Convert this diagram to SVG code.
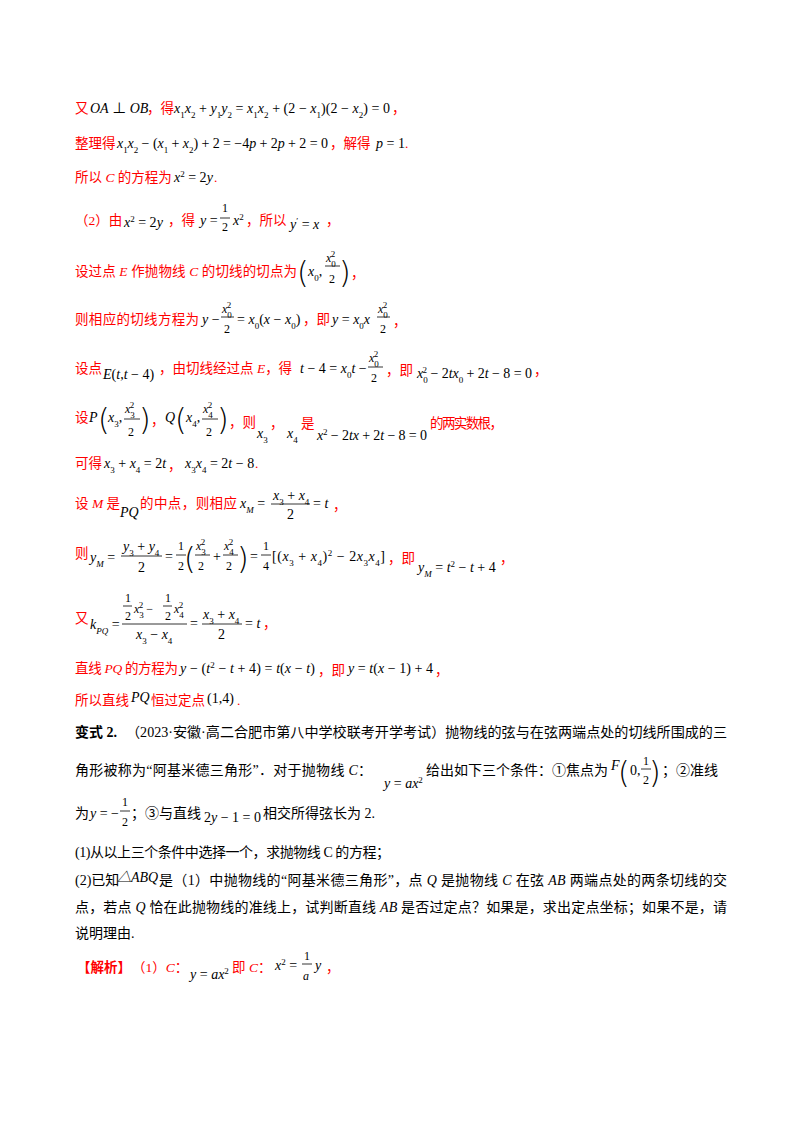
<svg xmlns="http://www.w3.org/2000/svg" width="800" height="1132" viewBox="0 0 800 1132">
<style>
text{font-family:"Liberation Serif","Noto Sans CJK SC",serif;font-size:14px;fill:#000}
.r{fill:#ff0000;font-size:13.5px}
.m{font-style:italic}
.n{font-style:normal}
.i{font-style:italic}
.s{font-size:9px;baseline-shift:sub;font-style:normal}
.si{font-size:9px;baseline-shift:sub}
.p{font-size:9px;baseline-shift:super;font-style:normal}
.f{font-size:12px}
line{stroke:#000;stroke-width:0.8}
.b{font-size:30px;font-weight:100;font-family:"DejaVu Sans",sans-serif}
</style>
<rect width="800" height="1132" fill="#fff"/>
<g id="line1">
<text x="75" y="113" class="r">又</text>
<text x="90" y="113" class="m">OA<tspan class="n"> ⊥ </tspan>OB</text>
<text x="147" y="113" class="r">，得</text>
<text x="174" y="113" class="m" textLength="216" lengthAdjust="spacing">x<tspan class="s">1</tspan>x<tspan class="s">2</tspan> <tspan class="n">+</tspan> y<tspan class="s">1</tspan>y<tspan class="s">2</tspan> <tspan class="n">=</tspan> x<tspan class="s">1</tspan>x<tspan class="s">2</tspan> <tspan class="n">+ (2 − </tspan>x<tspan class="s">1</tspan><tspan class="n">)(2 − </tspan>x<tspan class="s">2</tspan><tspan class="n">) = 0</tspan></text>
<text x="392" y="113" class="r">，</text>
</g>
<g id="line2">
<text x="75" y="148" class="r">整理得</text>
<text x="117" y="148" class="m" textLength="211" lengthAdjust="spacing">x<tspan class="s">1</tspan>x<tspan class="s">2</tspan><tspan class="n"> − (</tspan>x<tspan class="s">1</tspan><tspan class="n"> + </tspan>x<tspan class="s">2</tspan><tspan class="n">) + 2 = −4</tspan>p<tspan class="n"> + 2</tspan>p<tspan class="n"> + 2 = 0</tspan></text>
<text x="330" y="148" class="r">，解得</text>
<text x="376" y="148" class="m">p<tspan class="n"> = 1</tspan></text>
<text x="405" y="148" class="r">.</text>
</g>
<g id="line3">
<text x="75" y="182" class="r">所以 <tspan class="i">C</tspan> 的方程为</text>
<text x="174" y="182" class="m">x<tspan class="p">2</tspan><tspan class="n"> = 2</tspan>y</text>
<text x="214" y="182" class="r">.</text>
</g>
<g id="line4">
<text x="75" y="225" class="r">（2）由</text>
<text x="124" y="227" class="m">x<tspan class="p">2</tspan><tspan class="n"> = 2</tspan>y</text>
<text x="168" y="225" class="r">，得</text>
<text x="200" y="225" class="m">y<tspan class="n"> =</tspan></text>
<text x="222" y="212" class="f">1</text><line x1="220" y1="218" x2="230" y2="218"/><text x="222" y="231" class="f">2</text>
<text x="233" y="225" class="m">x<tspan class="p">2</tspan></text>
<text x="246" y="225" class="r">，所以</text>
<text x="290" y="229" class="m">y<tspan class="p">′</tspan><tspan class="n"> = </tspan>x</text>
<text x="326" y="225" class="r">，</text>
</g>
<g id="line5">
<text x="75" y="276" class="r" textLength="222" lengthAdjust="spacing">设过点 <tspan class="i">E</tspan> 作抛物线 <tspan class="i">C</tspan> 的切线的切点为</text>
<text x="297" y="283" class="b">(</text>
<text x="308" y="276" class="m">x<tspan class="s">0</tspan><tspan class="n">,</tspan></text>
<text x="326" y="262" class="m f">x<tspan class="s">0</tspan><tspan class="p" dx="-5">2</tspan></text><line x1="325" y1="266" x2="340" y2="266"/><text x="329" y="283" class="f">2</text>
<text x="339" y="283" class="b">)</text>
<text x="351" y="278" class="r">，</text>
</g>
<g id="line6">
<text x="75" y="324" class="r" textLength="124" lengthAdjust="spacing">则相应的切线方程为</text>
<text x="202" y="324" class="m">y<tspan class="n"> −</tspan></text>
<text x="222" y="313" class="m f">x<tspan class="s">0</tspan><tspan class="p" dx="-5">2</tspan></text><line x1="221" y1="317" x2="234" y2="317"/><text x="224" y="333" class="f">2</text>
<text x="237" y="324" class="m"><tspan class="n">= </tspan>x<tspan class="s">0</tspan><tspan class="n">(</tspan>x<tspan class="n"> − </tspan>x<tspan class="s">0</tspan><tspan class="n">)</tspan></text>
<text x="303" y="324" class="r">，即</text>
<text x="332" y="324" class="m">y<tspan class="n"> = </tspan>x<tspan class="s">0</tspan>x</text>
<text x="378" y="313" class="m f">x<tspan class="s">0</tspan><tspan class="p" dx="-5">2</tspan></text><line x1="377" y1="317" x2="390" y2="317"/><text x="380" y="333" class="f">2</text>
<text x="393" y="326" class="r">，</text>
</g>
<g id="line7">
<text x="75" y="373" class="r">设点</text>
<text x="103" y="379" class="m">E<tspan class="n">(</tspan>t<tspan class="n">,</tspan>t<tspan class="n"> − 4)</tspan></text>
<text x="159" y="373" class="r">，由切线经过点 <tspan class="i">E</tspan>，得</text>
<text x="300" y="373" class="m">t<tspan class="n"> − 4 = </tspan>x<tspan class="s">0</tspan>t<tspan class="n"> −</tspan></text>
<text x="369" y="362" class="m f">x<tspan class="s">0</tspan><tspan class="p" dx="-5">2</tspan></text><line x1="368" y1="367" x2="383" y2="367"/><text x="371" y="382" class="f">2</text>
<text x="386" y="375" class="r">，即</text>
<text x="417" y="378" class="m" textLength="115" lengthAdjust="spacing">x<tspan class="s">0</tspan><tspan class="p" dx="-5">2</tspan><tspan class="n"> − 2</tspan>tx<tspan class="s">0</tspan><tspan class="n"> + 2</tspan>t<tspan class="n"> − 8 = 0</tspan></text>
<text x="534" y="375" class="r">，</text>
</g>
<g id="line8">
<text x="75" y="422" class="r">设</text>
<text x="89" y="422" class="m">P</text>
<text x="98" y="430" class="b">(</text>
<text x="108" y="422" class="m">x<tspan class="s">3</tspan><tspan class="n">,</tspan></text>
<text x="125" y="413" class="m f">x<tspan class="s">3</tspan><tspan class="p" dx="-5">2</tspan></text><line x1="124" y1="419" x2="140" y2="419"/><text x="128" y="436" class="f">2</text>
<text x="139" y="430" class="b">)</text>
<text x="151" y="425" class="r">，</text>
<text x="165" y="422" class="m">Q</text>
<text x="175" y="430" class="b">(</text>
<text x="186" y="422" class="m">x<tspan class="s">4</tspan><tspan class="n">,</tspan></text>
<text x="203" y="413" class="m f">x<tspan class="s">4</tspan><tspan class="p" dx="-5">2</tspan></text><line x1="202" y1="419" x2="218" y2="419"/><text x="206" y="436" class="f">2</text>
<text x="217" y="430" class="b">)</text>
<text x="229" y="427" class="r">，则</text>
<text x="257" y="438" class="m">x<tspan class="s">3</tspan></text>
<text x="270" y="428" class="r">，</text>
<text x="287" y="438" class="m">x<tspan class="s">4</tspan></text>
<text x="301" y="428" class="r">是</text>
<text x="317" y="440" class="m" textLength="110" lengthAdjust="spacing">x<tspan class="p">2</tspan><tspan class="n"> − 2</tspan>tx<tspan class="n"> + 2</tspan>t<tspan class="n"> − 8 = 0</tspan></text>
<text x="430" y="428" class="r" textLength="73" lengthAdjust="spacing">的两实数根，</text>
</g>
<g id="line9">
<text x="75" y="468" class="r">可得</text>
<text x="104" y="468" class="m">x<tspan class="s">3</tspan><tspan class="n"> + </tspan>x<tspan class="s">4</tspan><tspan class="n"> = 2</tspan>t</text>
<text x="168" y="470" class="r">，</text>
<text x="185" y="468" class="m">x<tspan class="s">3</tspan>x<tspan class="s">4</tspan><tspan class="n"> = 2</tspan>t<tspan class="n"> − 8</tspan></text>
<text x="255" y="468" class="r">.</text>
</g>
<g id="line10">
<text x="75" y="508" class="r">设 <tspan class="i">M</tspan> 是</text>
<text x="120" y="517" class="m">PQ</text>
<text x="140" y="508" class="r" textLength="97" lengthAdjust="spacing">的中点，则相应</text>
<text x="240" y="508" class="m">x<tspan class="si">M</tspan><tspan class="n"> =</tspan></text>
<text x="273" y="500" class="m">x<tspan class="s">3</tspan><tspan class="n"> + </tspan>x<tspan class="s">4</tspan></text><line x1="271" y1="504" x2="310" y2="504"/><text x="287" y="519" class="n">2</text>
<text x="313" y="508"><tspan class="n">= </tspan><tspan class="m">t</tspan></text>
<text x="333" y="510" class="r">，</text>
</g>
<g id="line11">
<text x="75" y="558" class="r">则</text>
<text x="90" y="562" class="m">y<tspan class="si">M</tspan><tspan class="n"> =</tspan></text>
<text x="123" y="551" class="m">y<tspan class="s">3</tspan><tspan class="n"> + </tspan>y<tspan class="s">4</tspan></text><line x1="121" y1="556" x2="162" y2="556"/><text x="138" y="572">2</text>
<text x="165" y="561">=</text>
<text x="178" y="550" class="f">1</text><line x1="176" y1="555" x2="186" y2="555"/><text x="178" y="570" class="f">2</text>
<text x="184" y="569" class="b">(</text>
<text x="196" y="550" class="m f">x<tspan class="s">3</tspan><tspan class="p" dx="-5">2</tspan></text><line x1="195" y1="555" x2="210" y2="555"/><text x="198" y="570" class="f">2</text>
<text x="213" y="561">+</text>
<text x="224" y="550" class="m f">x<tspan class="s">4</tspan><tspan class="p" dx="-5">2</tspan></text><line x1="223" y1="555" x2="238" y2="555"/><text x="226" y="570" class="f">2</text>
<text x="237" y="569" class="b">)</text>
<text x="250" y="561">=</text>
<text x="263" y="550" class="f">1</text><line x1="261" y1="555" x2="271" y2="555"/><text x="263" y="570" class="f">4</text>
<text x="272" y="561" textLength="113" lengthAdjust="spacing">[(<tspan class="m">x<tspan class="s">3</tspan><tspan class="n"> + </tspan>x<tspan class="s">4</tspan></tspan>)<tspan class="p">2</tspan> − 2<tspan class="m">x<tspan class="s">3</tspan>x<tspan class="s">4</tspan></tspan>]</text>
<text x="388" y="563" class="r">，即</text>
<text x="418" y="572" class="m">y<tspan class="si">M</tspan><tspan class="n"> = </tspan>t<tspan class="p">2</tspan><tspan class="n"> − </tspan>t<tspan class="n"> + 4</tspan></text>
<text x="500" y="563" class="r">，</text>
</g>
<g id="line12">
<text x="75" y="623" class="r">又</text>
<text x="90" y="629" class="m">k<tspan class="si">PQ</tspan><tspan class="n"> =</tspan></text>
<text x="125" y="602" class="f">1</text><line x1="123" y1="606" x2="132" y2="606"/><text x="125" y="620" class="f">2</text>
<text x="134" y="613" class="m f">x<tspan class="s">3</tspan><tspan class="p" dx="-5">2</tspan><tspan class="n"> − </tspan></text>
<text x="165" y="602" class="f">1</text><line x1="163" y1="606" x2="172" y2="606"/><text x="165" y="620" class="f">2</text>
<text x="174" y="613" class="m f">x<tspan class="s">4</tspan><tspan class="p" dx="-5">2</tspan></text>
<line x1="122" y1="624" x2="187" y2="624"/>
<text x="136" y="639" class="m">x<tspan class="s">3</tspan><tspan class="n"> − </tspan>x<tspan class="s">4</tspan></text>
<text x="190" y="628">=</text>
<text x="203" y="619" class="m">x<tspan class="s">3</tspan><tspan class="n"> + </tspan>x<tspan class="s">4</tspan></text><line x1="202" y1="624" x2="242" y2="624"/><text x="218" y="639">2</text>
<text x="245" y="628">= <tspan class="m">t</tspan></text>
<text x="263" y="628" class="r">，</text>
</g>
<g id="line13">
<text x="75" y="673" class="r" textLength="103" lengthAdjust="spacing">直线 <tspan class="i">PQ</tspan> 的方程为</text>
<text x="180" y="673" class="m" textLength="135" lengthAdjust="spacing">y<tspan class="n"> − (</tspan>t<tspan class="p">2</tspan><tspan class="n"> − </tspan>t<tspan class="n"> + 4) = </tspan>t<tspan class="n">(</tspan>x<tspan class="n"> − </tspan>t<tspan class="n">)</tspan></text>
<text x="318" y="675" class="r">，即</text>
<text x="348" y="673" class="m" textLength="85" lengthAdjust="spacing">y<tspan class="n"> = </tspan>t<tspan class="n">(</tspan>x<tspan class="n"> − 1) + 4</tspan></text>
<text x="435" y="675" class="r">，</text>
</g>
<g id="line14">
<text x="75" y="705" class="r">所以直线</text>
<text x="131" y="702" class="m">PQ</text>
<text x="151" y="705" class="r">恒过定点</text>
<text x="207" y="703">(1,4)</text>
<text x="237" y="705" class="r">.</text>
</g>
<g id="problem">
<text x="75" y="737" font-weight="bold">变式 2.</text>
<text x="126" y="737" textLength="601" lengthAdjust="spacingAndGlyphs">（2023·安徽·高二合肥市第八中学校联考开学考试）抛物线的弦与在弦两端点处的切线所围成的三</text>
<text x="75" y="775" textLength="297" lengthAdjust="spacing">角形被称为“阿基米德三角形”．对于抛物线 <tspan class="i">C</tspan>：</text>
<text x="384" y="788" class="m">y<tspan class="n"> = </tspan>ax<tspan class="p">2</tspan></text>
<text x="426" y="775" textLength="182" lengthAdjust="spacing">给出如下三个条件：①焦点为</text>
<text x="611" y="770" class="m">F</text>
<text x="618" y="783" class="b">(</text>
<text x="630" y="775">0,</text>
<text x="643" y="765" class="f">1</text><line x1="641" y1="769" x2="651" y2="769"/><text x="643" y="784" class="f">2</text>
<text x="649" y="783" class="b">)</text>
<text x="662" y="775" textLength="56" lengthAdjust="spacing">；②准线</text>
<text x="75" y="818">为</text>
<text x="90" y="818" class="m">y<tspan class="n"> = −</tspan></text>
<text x="122" y="806" class="f">1</text><line x1="120" y1="811" x2="130" y2="811"/><text x="122" y="826" class="f">2</text>
<text x="131" y="818">；③与直线</text>
<text x="204" y="822" class="m"><tspan class="n">2</tspan>y<tspan class="n"> − 1 = 0</tspan></text>
<text x="263" y="818">相交所得弦长为 2.</text>
<text x="75" y="857" textLength="315" lengthAdjust="spacing">(1)从以上三个条件中选择一个，求抛物线 C 的方程；</text>
<text x="75" y="885">(2)已知</text>
<text x="117" y="882" class="m" font-size="12">△ABQ</text>
<text x="159" y="885" textLength="568" lengthAdjust="spacing">是（1）中抛物线的“阿基米德三角形”，点 <tspan class="i">Q</tspan> 是抛物线 <tspan class="i">C</tspan> 在弦 <tspan class="i">AB</tspan> 两端点处的两条切线的交</text>
<text x="75" y="912" textLength="652" lengthAdjust="spacing">点，若点 <tspan class="i">Q</tspan> 恰在此抛物线的准线上，试判断直线 <tspan class="i">AB</tspan> 是否过定点？如果是，求出定点坐标；如果不是，请</text>
<text x="75" y="938">说明理由.</text>
</g>
<g id="solution">
<text x="77" y="972" class="r" font-weight="bold">【解析】</text>
<text x="132" y="972" class="r">（1）<tspan class="i">C</tspan>：</text>
<text x="190" y="979" class="m">y<tspan class="n"> = </tspan>ax<tspan class="p">2</tspan></text>
<text x="232" y="972" class="r">即 <tspan class="i">C</tspan>：</text>
<text x="275" y="970" class="m">x<tspan class="p">2</tspan><tspan class="n"> =</tspan></text>
<text x="304" y="960" class="f">1</text><line x1="302" y1="964" x2="312" y2="964"/><text x="303" y="980" class="m f">a</text>
<text x="315" y="970" class="m">y</text>
<text x="326" y="972" class="r">，</text>
</g>
</svg>
